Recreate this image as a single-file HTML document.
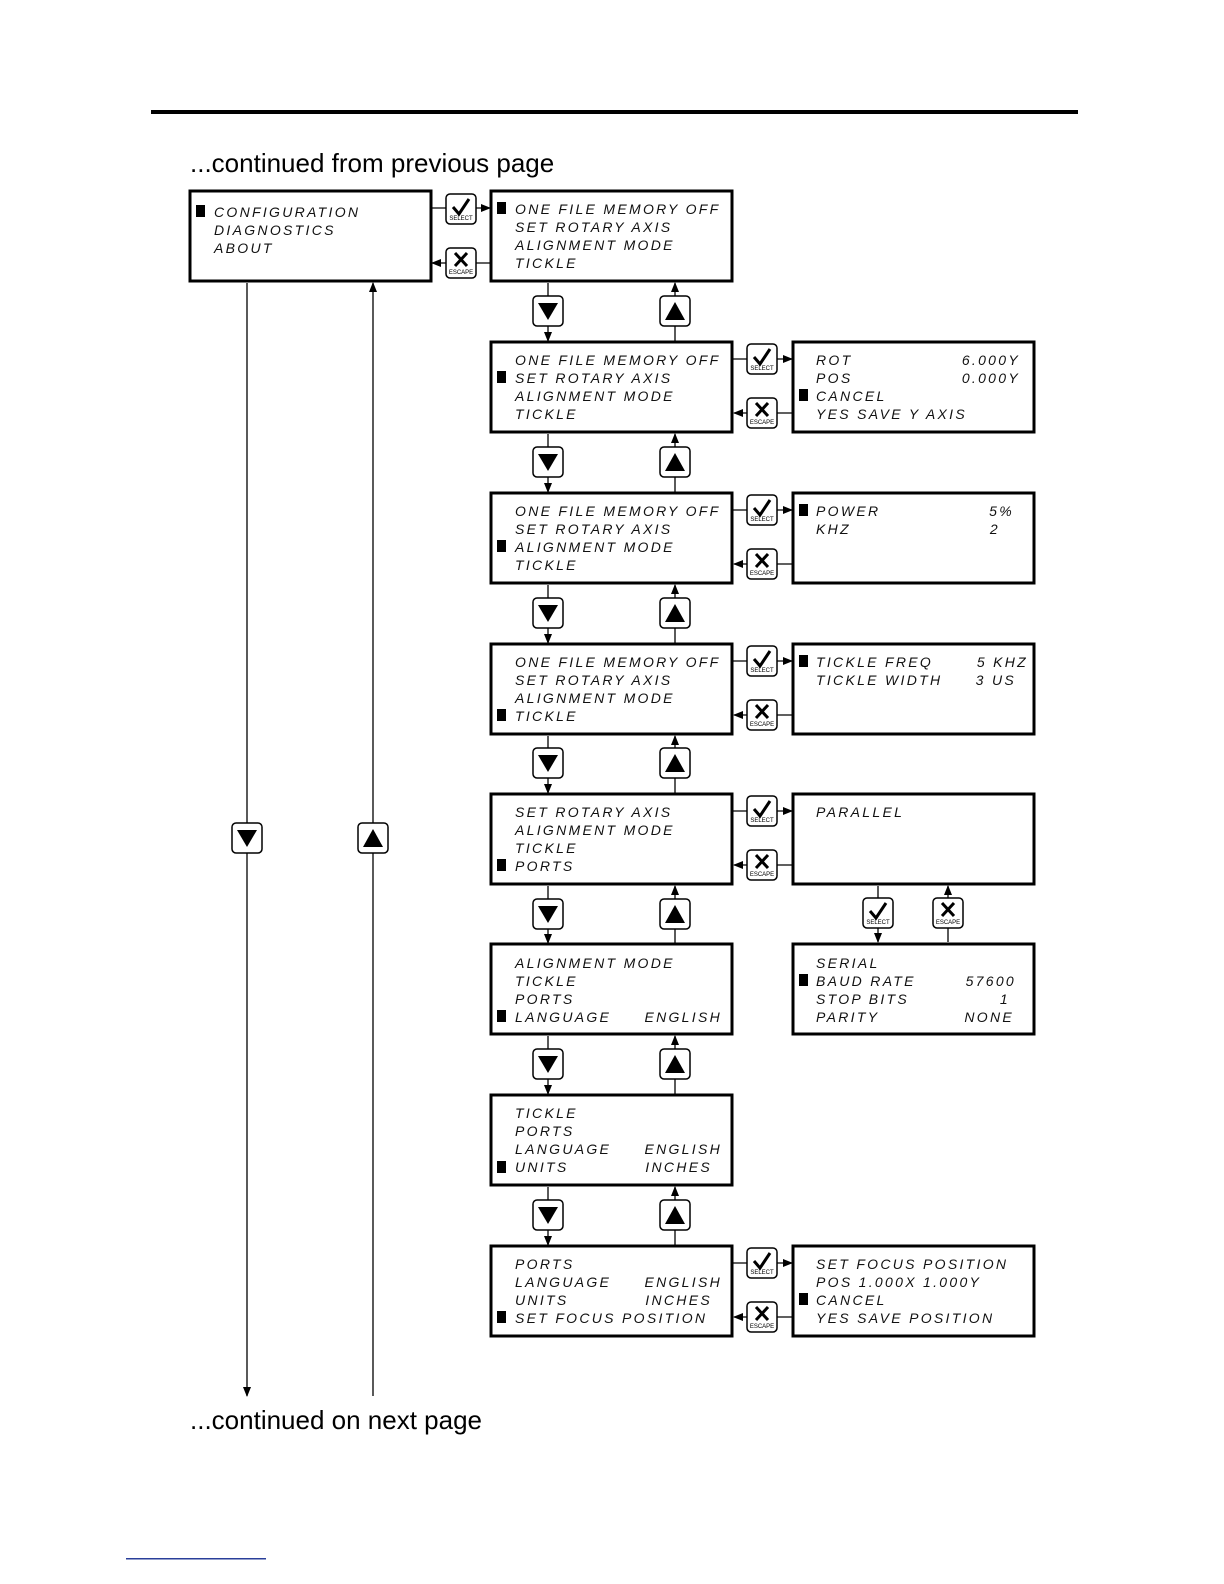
<!DOCTYPE html>
<html><head><meta charset="utf-8"><style>
html,body{margin:0;padding:0;background:#fff;overflow:hidden;width:1224px;height:1584px}
svg{display:block}
.t{font-family:"Liberation Sans",sans-serif;font-style:italic;font-size:14px;letter-spacing:2.3px;fill:#111}
.b{font-family:"Liberation Sans",sans-serif;font-size:6px;fill:#000}
.h{font-family:"Liberation Sans",sans-serif;font-size:26px;fill:#000}
</style></head><body>
<svg width="1224" height="1584" viewBox="0 0 1224 1584" xmlns="http://www.w3.org/2000/svg">
<defs>
<marker id="a" markerWidth="10" markerHeight="10" refX="9" refY="5" orient="auto" markerUnits="userSpaceOnUse"><path d="M0,1 L10,5 L0,9z" fill="#000"/></marker>
<g id="sel"><rect x="0" y="0" width="30" height="30" rx="4" fill="#fff" stroke="#000" stroke-width="1.5"/><path d="M7,13 L13,20 L23,5" fill="none" stroke="#000" stroke-width="3"/></g>
<g id="esc"><rect x="0" y="0" width="30" height="30" rx="4" fill="#fff" stroke="#000" stroke-width="1.5"/><path d="M9,5 L21,18 M21,5 L9,18" stroke="#000" stroke-width="3"/></g>
<g id="dn"><rect x="0" y="0" width="30" height="30" rx="4" fill="#fff" stroke="#000" stroke-width="1.5"/><path d="M5,7 L25,7 L15,24z" fill="#000"/></g>
<g id="up"><rect x="0" y="0" width="30" height="30" rx="4" fill="#fff" stroke="#000" stroke-width="1.5"/><path d="M5,24 L25,24 L15,6z" fill="#000"/></g>
</defs>
<rect x="151" y="110" width="927" height="4" fill="#000"/>
<text class="h" x="190" y="172">...continued from previous page</text>
<text class="h" x="190" y="1429">...continued on next page</text>
<rect x="126" y="1558" width="140" height="1.5" fill="#2a3f9a"/>
<g fill="none" stroke="#000" stroke-width="3">
<rect x="190" y="191" width="241" height="90"/>
<rect x="491" y="191" width="241" height="90"/>
<rect x="491" y="342" width="241" height="90"/>
<rect x="491" y="493" width="241" height="90"/>
<rect x="491" y="644" width="241" height="90"/>
<rect x="491" y="794" width="241" height="90"/>
<rect x="491" y="944" width="241" height="90"/>
<rect x="491" y="1095" width="241" height="90"/>
<rect x="491" y="1246" width="241" height="90"/>
<rect x="793" y="342" width="241" height="90"/>
<rect x="793" y="493" width="241" height="90"/>
<rect x="793" y="644" width="241" height="90"/>
<rect x="793" y="794" width="241" height="90"/>
<rect x="793" y="944" width="241" height="90"/>
<rect x="793" y="1246" width="241" height="90"/>
</g>
<g stroke="#000" stroke-width="1.3" fill="none">
<line x1="247" y1="283" x2="247" y2="1396" marker-end="url(#a)"/>
<line x1="373" y1="1396" x2="373" y2="283" marker-end="url(#a)"/>
<line x1="432" y1="208" x2="490" y2="208" marker-end="url(#a)"/>
<line x1="490" y1="263" x2="432" y2="263" marker-end="url(#a)"/>
<line x1="733" y1="359" x2="792" y2="359" marker-end="url(#a)"/>
<line x1="792" y1="413" x2="734" y2="413" marker-end="url(#a)"/>
<line x1="733" y1="510" x2="792" y2="510" marker-end="url(#a)"/>
<line x1="792" y1="564" x2="734" y2="564" marker-end="url(#a)"/>
<line x1="733" y1="661" x2="792" y2="661" marker-end="url(#a)"/>
<line x1="792" y1="715" x2="734" y2="715" marker-end="url(#a)"/>
<line x1="733" y1="811" x2="792" y2="811" marker-end="url(#a)"/>
<line x1="792" y1="865" x2="734" y2="865" marker-end="url(#a)"/>
<line x1="733" y1="1263" x2="792" y2="1263" marker-end="url(#a)"/>
<line x1="792" y1="1317" x2="734" y2="1317" marker-end="url(#a)"/>
<line x1="878" y1="886" x2="878" y2="942" marker-end="url(#a)"/>
<line x1="948" y1="942" x2="948" y2="886" marker-end="url(#a)"/>
<line x1="548" y1="283" x2="548" y2="341" marker-end="url(#a)"/><line x1="675" y1="341" x2="675" y2="283" marker-end="url(#a)"/>
<line x1="548" y1="434" x2="548" y2="492" marker-end="url(#a)"/><line x1="675" y1="492" x2="675" y2="434" marker-end="url(#a)"/>
<line x1="548" y1="585" x2="548" y2="643" marker-end="url(#a)"/><line x1="675" y1="643" x2="675" y2="585" marker-end="url(#a)"/>
<line x1="548" y1="736" x2="548" y2="793" marker-end="url(#a)"/><line x1="675" y1="793" x2="675" y2="736" marker-end="url(#a)"/>
<line x1="548" y1="886" x2="548" y2="943" marker-end="url(#a)"/><line x1="675" y1="943" x2="675" y2="886" marker-end="url(#a)"/>
<line x1="548" y1="1036" x2="548" y2="1094" marker-end="url(#a)"/><line x1="675" y1="1094" x2="675" y2="1036" marker-end="url(#a)"/>
<line x1="548" y1="1187" x2="548" y2="1245" marker-end="url(#a)"/><line x1="675" y1="1245" x2="675" y2="1187" marker-end="url(#a)"/>
</g>
<use href="#sel" x="446" y="194"/><text class="b" x="461" y="220" text-anchor="middle">SELECT</text>
<use href="#esc" x="446" y="248"/><text class="b" x="461" y="274" text-anchor="middle">ESCAPE</text>
<use href="#sel" x="747" y="344"/><text class="b" x="762" y="370" text-anchor="middle">SELECT</text>
<use href="#esc" x="747" y="398"/><text class="b" x="762" y="424" text-anchor="middle">ESCAPE</text>
<use href="#sel" x="747" y="495"/><text class="b" x="762" y="521" text-anchor="middle">SELECT</text>
<use href="#esc" x="747" y="549"/><text class="b" x="762" y="575" text-anchor="middle">ESCAPE</text>
<use href="#sel" x="747" y="646"/><text class="b" x="762" y="672" text-anchor="middle">SELECT</text>
<use href="#esc" x="747" y="700"/><text class="b" x="762" y="726" text-anchor="middle">ESCAPE</text>
<use href="#sel" x="747" y="796"/><text class="b" x="762" y="822" text-anchor="middle">SELECT</text>
<use href="#esc" x="747" y="850"/><text class="b" x="762" y="876" text-anchor="middle">ESCAPE</text>
<use href="#sel" x="747" y="1248"/><text class="b" x="762" y="1274" text-anchor="middle">SELECT</text>
<use href="#esc" x="747" y="1302"/><text class="b" x="762" y="1328" text-anchor="middle">ESCAPE</text>
<use href="#sel" x="863" y="898"/><text class="b" x="878" y="924" text-anchor="middle">SELECT</text>
<use href="#esc" x="933" y="898"/><text class="b" x="948" y="924" text-anchor="middle">ESCAPE</text>
<use href="#dn" x="232" y="823"/><use href="#up" x="358" y="823"/>
<use href="#dn" x="533" y="296"/><use href="#up" x="660" y="296"/>
<use href="#dn" x="533" y="447"/><use href="#up" x="660" y="447"/>
<use href="#dn" x="533" y="598"/><use href="#up" x="660" y="598"/>
<use href="#dn" x="533" y="748"/><use href="#up" x="660" y="748"/>
<use href="#dn" x="533" y="899"/><use href="#up" x="660" y="899"/>
<use href="#dn" x="533" y="1049"/><use href="#up" x="660" y="1049"/>
<use href="#dn" x="533" y="1200"/><use href="#up" x="660" y="1200"/>
<g fill="#000">
<rect x="196" y="205" width="9" height="12"/>
<rect x="497" y="202" width="9" height="12"/>
<rect x="497" y="371" width="9" height="12"/>
<rect x="497" y="540" width="9" height="12"/>
<rect x="497" y="709" width="9" height="12"/>
<rect x="497" y="859" width="9" height="12"/>
<rect x="497" y="1010" width="9" height="12"/>
<rect x="497" y="1161" width="9" height="12"/>
<rect x="497" y="1311" width="9" height="12"/>
<rect x="799" y="389" width="9" height="12"/>
<rect x="799" y="504" width="9" height="12"/>
<rect x="799" y="655" width="9" height="12"/>
<rect x="799" y="974" width="9" height="12"/>
<rect x="799" y="1293" width="9" height="12"/>
</g>
<g class="t">
<text x="214" y="217">CONFIGURATION</text><text x="214" y="235">DIAGNOSTICS</text><text x="214" y="253">ABOUT</text>
<text x="515" y="214">ONE FILE MEMORY OFF</text><text x="515" y="232">SET ROTARY AXIS</text><text x="515" y="250">ALIGNMENT MODE</text><text x="515" y="268">TICKLE</text>
<text x="515" y="365">ONE FILE MEMORY OFF</text><text x="515" y="383">SET ROTARY AXIS</text><text x="515" y="401">ALIGNMENT MODE</text><text x="515" y="419">TICKLE</text>
<text x="515" y="516">ONE FILE MEMORY OFF</text><text x="515" y="534">SET ROTARY AXIS</text><text x="515" y="552">ALIGNMENT MODE</text><text x="515" y="570">TICKLE</text>
<text x="515" y="667">ONE FILE MEMORY OFF</text><text x="515" y="685">SET ROTARY AXIS</text><text x="515" y="703">ALIGNMENT MODE</text><text x="515" y="721">TICKLE</text>
<text x="515" y="817">SET ROTARY AXIS</text><text x="515" y="835">ALIGNMENT MODE</text><text x="515" y="853">TICKLE</text><text x="515" y="871">PORTS</text>
<text x="515" y="968">ALIGNMENT MODE</text><text x="515" y="986">TICKLE</text><text x="515" y="1004">PORTS</text><text x="515" y="1022">LANGUAGE</text><text x="722" y="1022" text-anchor="end">ENGLISH</text>
<text x="515" y="1118">TICKLE</text><text x="515" y="1136">PORTS</text><text x="515" y="1154">LANGUAGE</text><text x="722" y="1154" text-anchor="end">ENGLISH</text><text x="515" y="1172">UNITS</text><text x="712" y="1172" text-anchor="end">INCHES</text>
<text x="515" y="1269">PORTS</text><text x="515" y="1287">LANGUAGE</text><text x="722" y="1287" text-anchor="end">ENGLISH</text><text x="515" y="1305">UNITS</text><text x="712" y="1305" text-anchor="end">INCHES</text><text x="515" y="1323">SET FOCUS POSITION</text>
<text x="816" y="365">ROT</text><text x="1020" y="365" text-anchor="end">6.000Y</text><text x="816" y="383">POS</text><text x="1020" y="383" text-anchor="end">0.000Y</text><text x="816" y="401">CANCEL</text><text x="816" y="419">YES SAVE Y AXIS</text>
<text x="816" y="516">POWER</text><text x="1014" y="516" text-anchor="end">5%</text><text x="816" y="534">KHZ</text><text x="1000" y="534" text-anchor="end">2</text>
<text x="816" y="667">TICKLE FREQ</text><text x="1028" y="667" text-anchor="end">5 KHZ</text><text x="816" y="685">TICKLE WIDTH</text><text x="1016" y="685" text-anchor="end">3 US</text>
<text x="816" y="817">PARALLEL</text>
<text x="816" y="968">SERIAL</text><text x="816" y="986">BAUD RATE</text><text x="1016" y="986" text-anchor="end">57600</text><text x="816" y="1004">STOP BITS</text><text x="1010" y="1004" text-anchor="end">1</text><text x="816" y="1022">PARITY</text><text x="1014" y="1022" text-anchor="end">NONE</text>
<text x="816" y="1269">SET FOCUS POSITION</text><text x="816" y="1287">POS 1.000X 1.000Y</text><text x="816" y="1305">CANCEL</text><text x="816" y="1323">YES SAVE POSITION</text>
</g>
</svg>
</body></html>
